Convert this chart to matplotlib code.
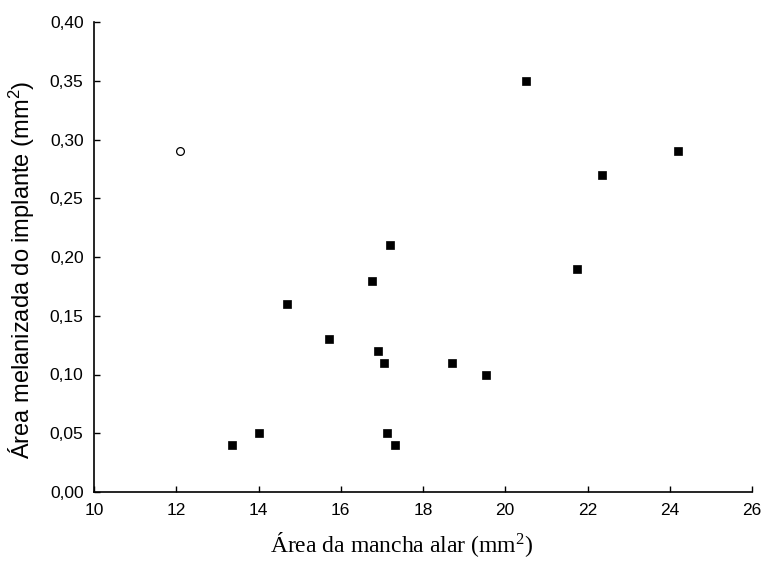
import matplotlib
matplotlib.use("Agg")
import matplotlib.pyplot as plt

# Data
sq_x = [20.5, 24.2, 22.35, 17.2, 21.75, 16.77, 14.7, 15.72, 16.9, 17.05, 18.71, 19.52, 13.36, 14.0, 17.13, 17.33]
sq_y = [0.35, 0.29, 0.27, 0.21, 0.19, 0.18, 0.16, 0.13, 0.12, 0.11, 0.11, 0.10, 0.04, 0.05, 0.05, 0.04]
open_x = [12.1]
open_y = [0.29]

x_ticks = [10, 12, 14, 16, 18, 20, 22, 24, 26]
y_ticks = [0.00, 0.05, 0.10, 0.15, 0.20, 0.25, 0.30, 0.35, 0.40]
y_tick_labels = ["0,00", "0,05", "0,10", "0,15", "0,20", "0,25", "0,30", "0,35", "0,40"]

fig = plt.figure(figsize=(7.64, 5.64), dpi=100)
ax = fig.add_axes([94/764, 72/564, (752-94)/764, (492-22)/564])

ax.plot(sq_x, sq_y, linestyle="none", marker="s", ms=5.6, mfc="black", mec="black", mew=0.5)
ax.plot(open_x, open_y, linestyle="none", marker="o", ms=5.6, mfc="white", mec="black", mew=0.9)

ax.set_xlim(10, 26)
ax.set_ylim(0, 0.40)
ax.set_xticks(x_ticks)
ax.set_xticklabels([str(t) for t in x_ticks])
ax.set_yticks(y_ticks)
ax.set_yticklabels(y_tick_labels)

for s in ["top", "right"]:
    ax.spines[s].set_visible(False)
for s in ["left", "bottom"]:
    ax.spines[s].set_linewidth(1.2)
    ax.spines[s].set_color("black")

ax.tick_params(direction="in", length=4, width=1.0, colors="black", labelsize=12.5)
ax.tick_params(axis="y", pad=7.5)
ax.tick_params(axis="x", pad=8)
for lab in ax.get_xticklabels() + ax.get_yticklabels():
    lab.set_fontfamily("Liberation Sans")

ax.set_xlabel(r"Área da mancha alar (mm$\mathregular{^2}$)", fontfamily="Liberation Serif",
              fontsize=17)
ax.set_ylabel(r"Área melanizada do implante (mm$\mathregular{^2}$)", fontfamily="Liberation Sans",
              fontsize=17)
ax.xaxis.set_label_coords((402 - 94) / 658, -(552 - 492) / 470)
ax.yaxis.set_label_coords((37 - 94) / 658, (492 - 270) / 470)
ax.xaxis.label.set_va("baseline")

fig.savefig("out.png", dpi=100)
